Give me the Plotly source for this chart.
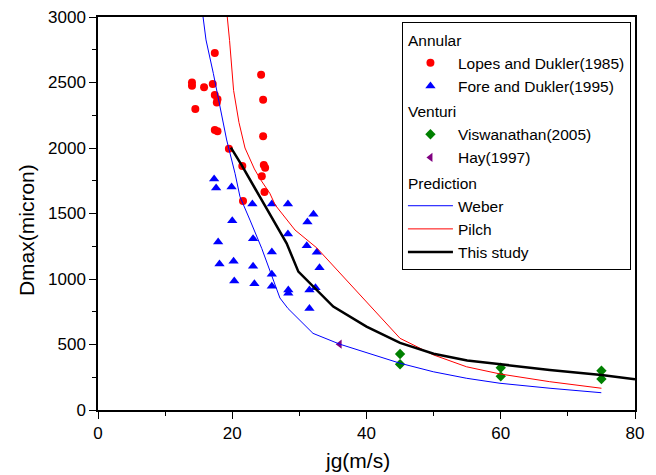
import plotly.graph_objects as go

# ---- data ----
lopes_x = [17.4, 24.3, 14.0, 14.0, 15.8, 17.1, 17.4, 17.7, 17.8, 24.6, 14.5, 17.4, 17.8, 24.6, 19.5, 21.5, 24.7, 24.9, 24.4, 24.8, 21.6]
lopes_y = [2725, 2560, 2500, 2476, 2463, 2489, 2404, 2347, 2372, 2369, 2298, 2137, 2128, 2089, 1995, 1863, 1870, 1850, 1784, 1664, 1596]

fore_x = [17.3, 17.6, 19.9, 23.0, 25.9, 28.3, 32.1, 31.2, 20.0, 28.3, 17.9, 23.1, 25.9, 31.1, 32.6, 18.1, 20.2, 23.1, 25.9, 33.0, 20.3, 23.3, 25.9, 28.35, 28.35, 31.5, 32.4, 31.5]
fore_y = [1763, 1695, 1702, 1573, 1573, 1573, 1494, 1435, 1445, 1344, 1283, 1308, 1206, 1254, 1204, 1115, 1135, 1097, 1036, 1086, 985, 964, 944, 916, 891, 916, 934, 775]

visw_x = [45, 45, 60, 60, 75, 75]
visw_y = [428, 349, 323, 257, 300, 237]

hay_x = [36]
hay_y = [502]

weber_x = [15.65, 16.09, 17.18, 18.18, 19.17, 20.41, 21.15, 22.64, 24.39, 27.1, 28.3, 32.03, 36.05, 44.99, 49.95, 54.93, 59.89, 67.34, 74.98]
weber_y = [3000, 2825, 2570, 2315, 2061, 1807, 1628, 1450, 1234, 855, 775, 585, 502, 357, 292, 242, 204, 166, 132]

pilch_x = [19.26, 19.6, 20.2, 21.0, 21.9, 23.3, 24.2, 25.6, 26.4, 28.1, 29.35, 32.6, 45.0, 50.0, 54.9, 59.9, 67.3, 75.0]
pilch_y = [3000, 2820, 2440, 2195, 2000, 1840, 1760, 1654, 1565, 1450, 1374, 1237, 547, 420, 330, 275, 216, 166]

study_x = [19.8, 21.4, 24.1, 28.1, 29.85, 35.05, 40.0, 45.0, 50.0, 55.0, 60.0, 67.3, 75.0, 80.0]
study_y = [2003, 1870, 1628, 1272, 1056, 790, 636, 512, 430, 378, 349, 305, 267, 235]

x_title = "jg(m/s)"
y_title = "Dmax(micron)"

FONT = "Liberation Sans, Arial, sans-serif"

fig = go.Figure()

fig.add_trace(go.Scatter(x=lopes_x, y=lopes_y, mode="markers", name="Lopes and Dukler(1985)",
                         marker=dict(symbol="circle", size=8, color="#FF0000"),
                         legendgroup="annular", legendgrouptitle_text="Annular"))
fig.add_trace(go.Scatter(x=fore_x, y=fore_y, mode="markers", name="Fore and Dukler(1995)",
                         marker=dict(symbol="triangle-up", size=9, color="#0000FF"),
                         legendgroup="annular"))
fig.add_trace(go.Scatter(x=visw_x, y=visw_y, mode="markers", name="Viswanathan(2005)",
                         marker=dict(symbol="diamond", size=8, color="#008000"),
                         legendgroup="venturi", legendgrouptitle_text="Venturi"))
fig.add_trace(go.Scatter(x=hay_x, y=hay_y, mode="markers", name="Hay(1997)",
                         marker=dict(symbol="triangle-left", size=8, color="#800080"),
                         legendgroup="venturi"))
fig.add_trace(go.Scatter(x=weber_x, y=weber_y, mode="lines", name="Weber",
                         line=dict(color="#0000FF", width=1),
                         legendgroup="prediction", legendgrouptitle_text="Prediction"))
fig.add_trace(go.Scatter(x=pilch_x, y=pilch_y, mode="lines", name="Pilch",
                         line=dict(color="#FF0000", width=1),
                         legendgroup="prediction"))
fig.add_trace(go.Scatter(x=study_x, y=study_y, mode="lines", name="This study",
                         line=dict(color="#000000", width=2.5),
                         legendgroup="prediction"))

axis_common = dict(showline=True, linecolor="black", linewidth=1.5, mirror=True,
                   ticks="outside", ticklen=7, tickwidth=1.2, tickcolor="black",
                   showgrid=False, zeroline=False, automargin=False,
                   ticklabeloverflow="allow",
                   tickfont=dict(family=FONT, size=17, color="black"))

fig.update_xaxes(range=[0, 80], dtick=20, tick0=0,
                 minor=dict(dtick=10, ticks="outside", ticklen=4, tickcolor="black", showgrid=False),
                 **axis_common)
fig.update_yaxes(range=[0, 3000], dtick=500, tick0=0,
                 minor=dict(dtick=250, ticks="outside", ticklen=4, tickcolor="black", showgrid=False),
                 **axis_common)

# axis titles placed as in the reference (slightly off-centre)
fig.add_annotation(text=x_title, xref="paper", yref="paper", x=0.484, y=-0.128,
                   xanchor="center", yanchor="middle", showarrow=False,
                   font=dict(family=FONT, size=21, color="black"))
fig.add_annotation(text=y_title, xref="paper", yref="paper", x=-0.134, y=0.458,
                   xanchor="center", yanchor="middle", showarrow=False, textangle=-90,
                   font=dict(family=FONT, size=21, color="black"))

# the page body adds an 8px offset, so the figure is sized to the remaining window
fig.update_layout(
    width=648, height=467,
    margin=dict(l=90, r=21, t=9, b=65),
    plot_bgcolor="white", paper_bgcolor="white",
    font=dict(family=FONT, color="black"),
    legend=dict(x=0.566, y=0.987, xanchor="left", yanchor="top",
                bordercolor="black", borderwidth=1, bgcolor="white",
                itemwidth=45,
                font=dict(family=FONT, size=15.5, color="black"),
                grouptitlefont=dict(family=FONT, size=15.5, color="black"),
                tracegroupgap=2, traceorder="grouped"),
)

fig.write_html("out.html")
